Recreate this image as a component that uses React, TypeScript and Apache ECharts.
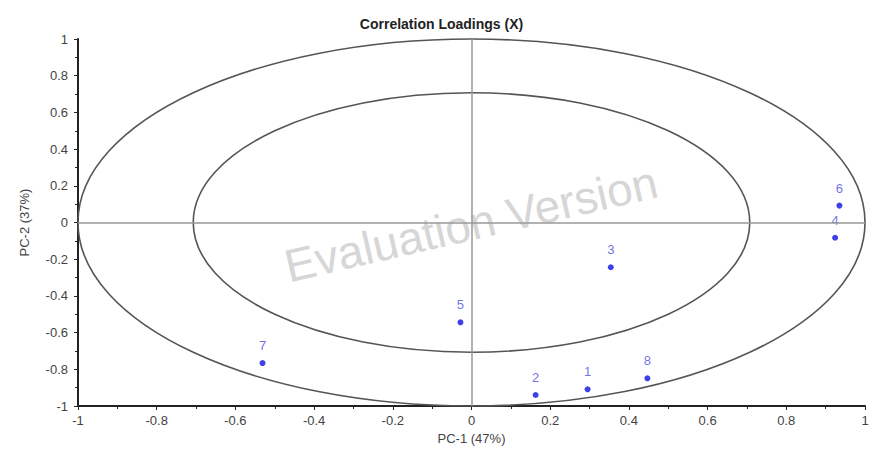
import React, { useEffect, useRef } from "react";
import * as echarts from "echarts";

const pointNames = ["1", "2", "3", "4", "5", "6", "7", "8"];
const pc1 = [0.295, 0.163, 0.354, 0.924, -0.028, 0.935, -0.531, 0.447];
const pc2 = [-0.909, -0.94, -0.244, -0.083, -0.544, 0.092, -0.766, -0.849];
const circleRadii = [1, 0.7071];

export default function App() {
  const ref = useRef<HTMLDivElement>(null);
  useEffect(() => {
    if (!ref.current) return;
    const chart = echarts.init(ref.current, null, { renderer: "svg" });
    const font = "'Liberation Sans', Arial, sans-serif";
    const option: any = {
      animation: false,
      backgroundColor: "#ffffff",
      title: {
        text: "Correlation Loadings (X)",
        left: "center",
        top: 12,
        textStyle: { fontFamily: font, fontWeight: "bold", fontSize: 14, color: "#222" },
      },
      grid: { left: 78, right: 18, top: 39, bottom: 46 },
      graphic: [
        {
          type: "text",
          x: 471,
          y: 224,
          rotation: (13 * Math.PI) / 180,
          z: 0,
          silent: true,
          style: {
            text: "Evaluation Version",
            fontFamily: font,
            fontSize: 46,
            fill: "#d6d6d6",
            textAlign: "center",
            textVerticalAlign: "middle",
          },
        },
      ],
      xAxis: {
        type: "value",
        min: -1,
        max: 1,
        interval: 0.2,
        name: "PC-1 (47%)",
        nameLocation: "middle",
        nameGap: 24,
        nameTextStyle: { fontFamily: font, fontSize: 13, color: "#444" },
        axisLine: { onZero: false, lineStyle: { color: "#222", width: 2 } },
        axisTick: { show: true, length: 4, lineStyle: { color: "#222" } },
        minorTick: { show: true, splitNumber: 2, length: 3, lineStyle: { color: "#222" } },
        splitLine: { show: false },
        axisLabel: { fontFamily: font, fontSize: 13, color: "#444", margin: 8 },
      },
      yAxis: {
        type: "value",
        min: -1,
        max: 1,
        interval: 0.2,
        name: "PC-2 (37%)",
        nameLocation: "middle",
        nameGap: 47,
        nameTextStyle: { fontFamily: font, fontSize: 13, color: "#444" },
        axisLine: { onZero: false, lineStyle: { color: "#222", width: 2 } },
        axisTick: { show: true, length: 4, lineStyle: { color: "#222" } },
        minorTick: { show: true, splitNumber: 2, length: 3, lineStyle: { color: "#222" } },
        splitLine: { show: false },
        axisLabel: { fontFamily: font, fontSize: 13, color: "#444", margin: 10 },
      },
      series: [
        {
          type: "custom",
          coordinateSystem: "cartesian2d",
          clip: false,
          silent: true,
          z: 1,
          data: circleRadii.map((r) => [0, 0, r]),
          encode: { x: 0, y: 1 },
          renderItem: (params: any, api: any) => {
            const r = api.value(2);
            const c = api.coord([0, 0]);
            const s = api.size([r, r]);
            return {
              type: "ellipse",
              shape: { cx: c[0], cy: c[1], rx: s[0], ry: s[1] },
              style: { fill: "none", stroke: "#555", lineWidth: 1.6 },
            };
          },
        },
        {
          type: "scatter",
          z: 3,
          symbolSize: 6,
          itemStyle: { color: "#0f0fe0" },
          label: {
            show: true,
            position: "top",
            distance: 8,
            formatter: (p: any) => p.data[2],
            fontFamily: font,
            fontSize: 13,
            color: "#4d4ddd",
          },
          data: pc1.map((x, i) => [x, pc2[i], pointNames[i]]),
          markLine: {
            silent: true,
            symbol: "none",
            label: { show: false },
            lineStyle: { color: "#999", type: "solid", width: 1.5 },
            data: [{ xAxis: 0 }, { yAxis: 0 }],
          },
        },
      ],
    };
    chart.setOption(option);
    return () => chart.dispose();
  }, []);
  return (
    <div
      ref={ref}
      style={{ position: "fixed", left: 0, top: 0, width: 883, height: 452 }}
    />
  );
}
